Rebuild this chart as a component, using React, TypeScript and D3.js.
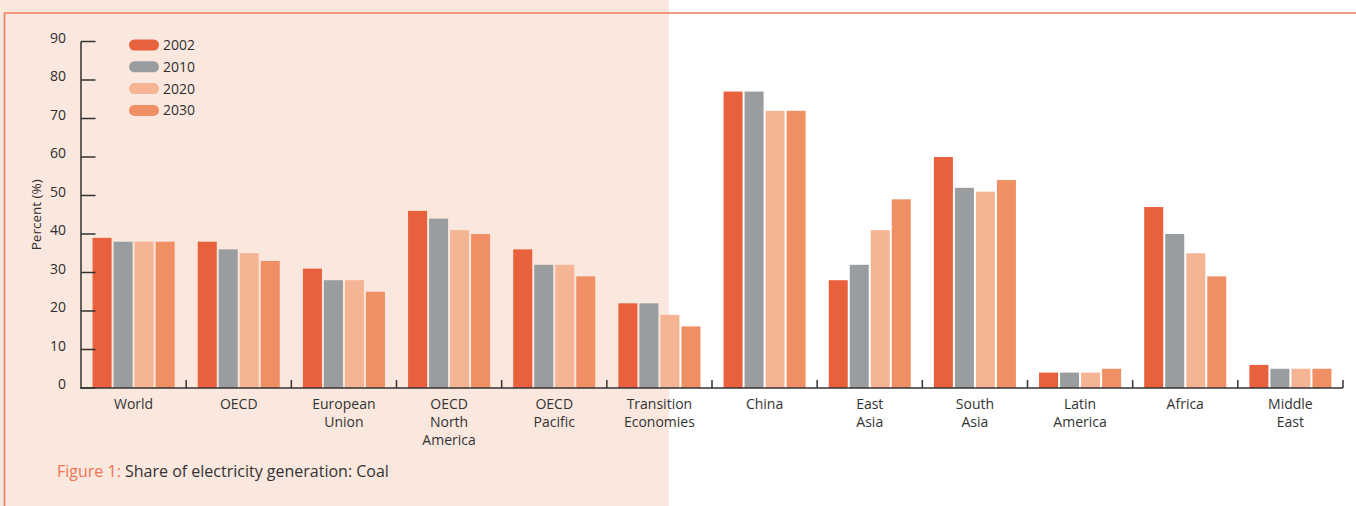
import { useEffect, useRef } from "react";
import * as d3 from "d3";

const categories = [
  "World",
  "OECD",
  "European\nUnion",
  "OECD\nNorth\nAmerica",
  "OECD\nPacific",
  "Transition\nEconomies",
  "China",
  "East\nAsia",
  "South\nAsia",
  "Latin\nAmerica",
  "Africa",
  "Middle\nEast",
];
const years = ["2002", "2010", "2020", "2030"];
const values2002 = [39, 38, 31, 46, 36, 22, 77, 28, 60, 4, 47, 6];
const values2010 = [38, 36, 28, 44, 32, 22, 77, 32, 52, 4, 40, 5];
const values2020 = [38, 35, 28, 41, 32, 19, 72, 41, 51, 4, 35, 5];
const values2030 = [38, 33, 25, 40, 29, 16, 72, 49, 54, 5, 29, 5];
const yTicks = [0, 10, 20, 30, 40, 50, 60, 70, 80, 90];

const colors = ["#e8603c", "#9a9d9f", "#f5b494", "#ef8f63"];
const W = 1356;
const H = 506;
const FONT = "'Open Sans', 'Noto Sans', sans-serif";

export default function App() {
  const svgRef = useRef<SVGSVGElement>(null);

  useEffect(() => {
    if (!svgRef.current) return;
    const svg = d3.select(svgRef.current);
    svg.selectAll("*").remove();

    const series = [values2002, values2010, values2020, values2030];
    const margin = { left: 81, right: 13, top: 41.5, bottom: 118 };

    // shaded panel and frame
    svg.append("rect").attr("x", 0).attr("y", 0).attr("width", 669).attr("height", H).attr("fill", "#fae7de");
    svg
      .append("path")
      .attr("d", `M4.5,${H} L4.5,13 L${W},13`)
      .attr("fill", "none")
      .attr("stroke", "#ef7c5c")
      .attr("stroke-width", 1.6);

    const x = d3
      .scaleBand<number>()
      .domain(d3.range(categories.length))
      .range([margin.left, W - margin.right])
      .paddingInner(0)
      .paddingOuter(0);

    const xInner = d3
      .scaleBand<number>()
      .domain(d3.range(years.length))
      .range([0, x.bandwidth()])
      .paddingInner(0.095)
      .paddingOuter(0.55);

    const y = d3
      .scaleLinear()
      .domain([0, 90])
      .range([H - margin.bottom, margin.top]);

    // bars
    series.forEach((vals, si) => {
      svg
        .append("g")
        .selectAll("rect")
        .data(vals)
        .join("rect")
        .attr("x", (_, i) => (x(i) as number) + (xInner(si) as number))
        .attr("y", (d) => y(d))
        .attr("width", xInner.bandwidth())
        .attr("height", (d) => y(0) - y(d))
        .attr("fill", colors[si]);
    });

    const axisColor = "#333";

    // y axis
    svg
      .append("line")
      .attr("x1", margin.left)
      .attr("x2", margin.left)
      .attr("y1", y(90))
      .attr("y2", y(0) + 1)
      .attr("stroke", axisColor)
      .attr("stroke-width", 1.5);
    yTicks.forEach((t) => {
      svg
        .append("line")
        .attr("x1", margin.left)
        .attr("x2", margin.left + 14.5)
        .attr("y1", y(t))
        .attr("y2", y(t))
        .attr("stroke", axisColor)
        .attr("stroke-width", 1.5);
      svg
        .append("text")
        .attr("x", 66)
        .attr("y", y(t) + 1)
        .attr("text-anchor", "end")
        .attr("font-family", FONT)
        .attr("font-size", 14)
        .attr("fill", "#2f2f2f")
        .text(t);
    });

    svg
      .append("text")
      .attr("transform", `translate(41,${y(45)}) rotate(-90)`)
      .attr("text-anchor", "middle")
      .attr("font-family", FONT)
      .attr("font-size", 13.5)
      .attr("fill", "#2f2f2f")
      .text("Percent (%)");

    // x axis
    svg
      .append("line")
      .attr("x1", margin.left)
      .attr("x2", W - margin.right)
      .attr("y1", y(0))
      .attr("y2", y(0))
      .attr("stroke", axisColor)
      .attr("stroke-width", 1.5);
    d3.range(1, categories.length + 1).forEach((i) => {
      const px = margin.left + x.step() * i;
      svg
        .append("line")
        .attr("x1", px)
        .attr("x2", px)
        .attr("y1", y(0))
        .attr("y2", y(0) - 8)
        .attr("stroke", axisColor)
        .attr("stroke-width", 1.5);
    });

    categories.forEach((c, i) => {
      const t = svg
        .append("text")
        .attr("text-anchor", "middle")
        .attr("font-family", FONT)
        .attr("font-size", 14)
        .attr("fill", "#333");
      c.split("\n").forEach((line, li) => {
        t.append("tspan")
          .attr("x", (x(i) as number) + x.bandwidth() / 2)
          .attr("y", 409 + li * 17.8)
          .text(line);
      });
    });

    // legend
    const lg = svg.append("g");
    years.forEach((yr, i) => {
      const cy = 45 + i * 21.8;
      lg.append("rect")
        .attr("x", 129)
        .attr("y", cy - 5.5)
        .attr("width", 30)
        .attr("height", 11)
        .attr("rx", 5.5)
        .attr("fill", colors[i]);
      lg.append("text")
        .attr("x", 163)
        .attr("y", cy + 5)
        .attr("font-family", FONT)
        .attr("font-size", 14)
        .attr("fill", "#2f2f2f")
        .text(yr);
    });

    // caption
    const cap = svg
      .append("text")
      .attr("x", 57)
      .attr("y", 477)
      .attr("font-family", FONT)
      .attr("font-size", 16)
      .attr("fill", "#333");
    cap.append("tspan").attr("fill", "#f07452").text("Figure 1: ");
    cap.append("tspan").text("Share of electricity generation: Coal");
  }, []);

  return (
    <svg
      ref={svgRef}
      width={W}
      height={H}
      style={{ position: "absolute", left: 0, top: 0, background: "#fff" }}
    />
  );
}
